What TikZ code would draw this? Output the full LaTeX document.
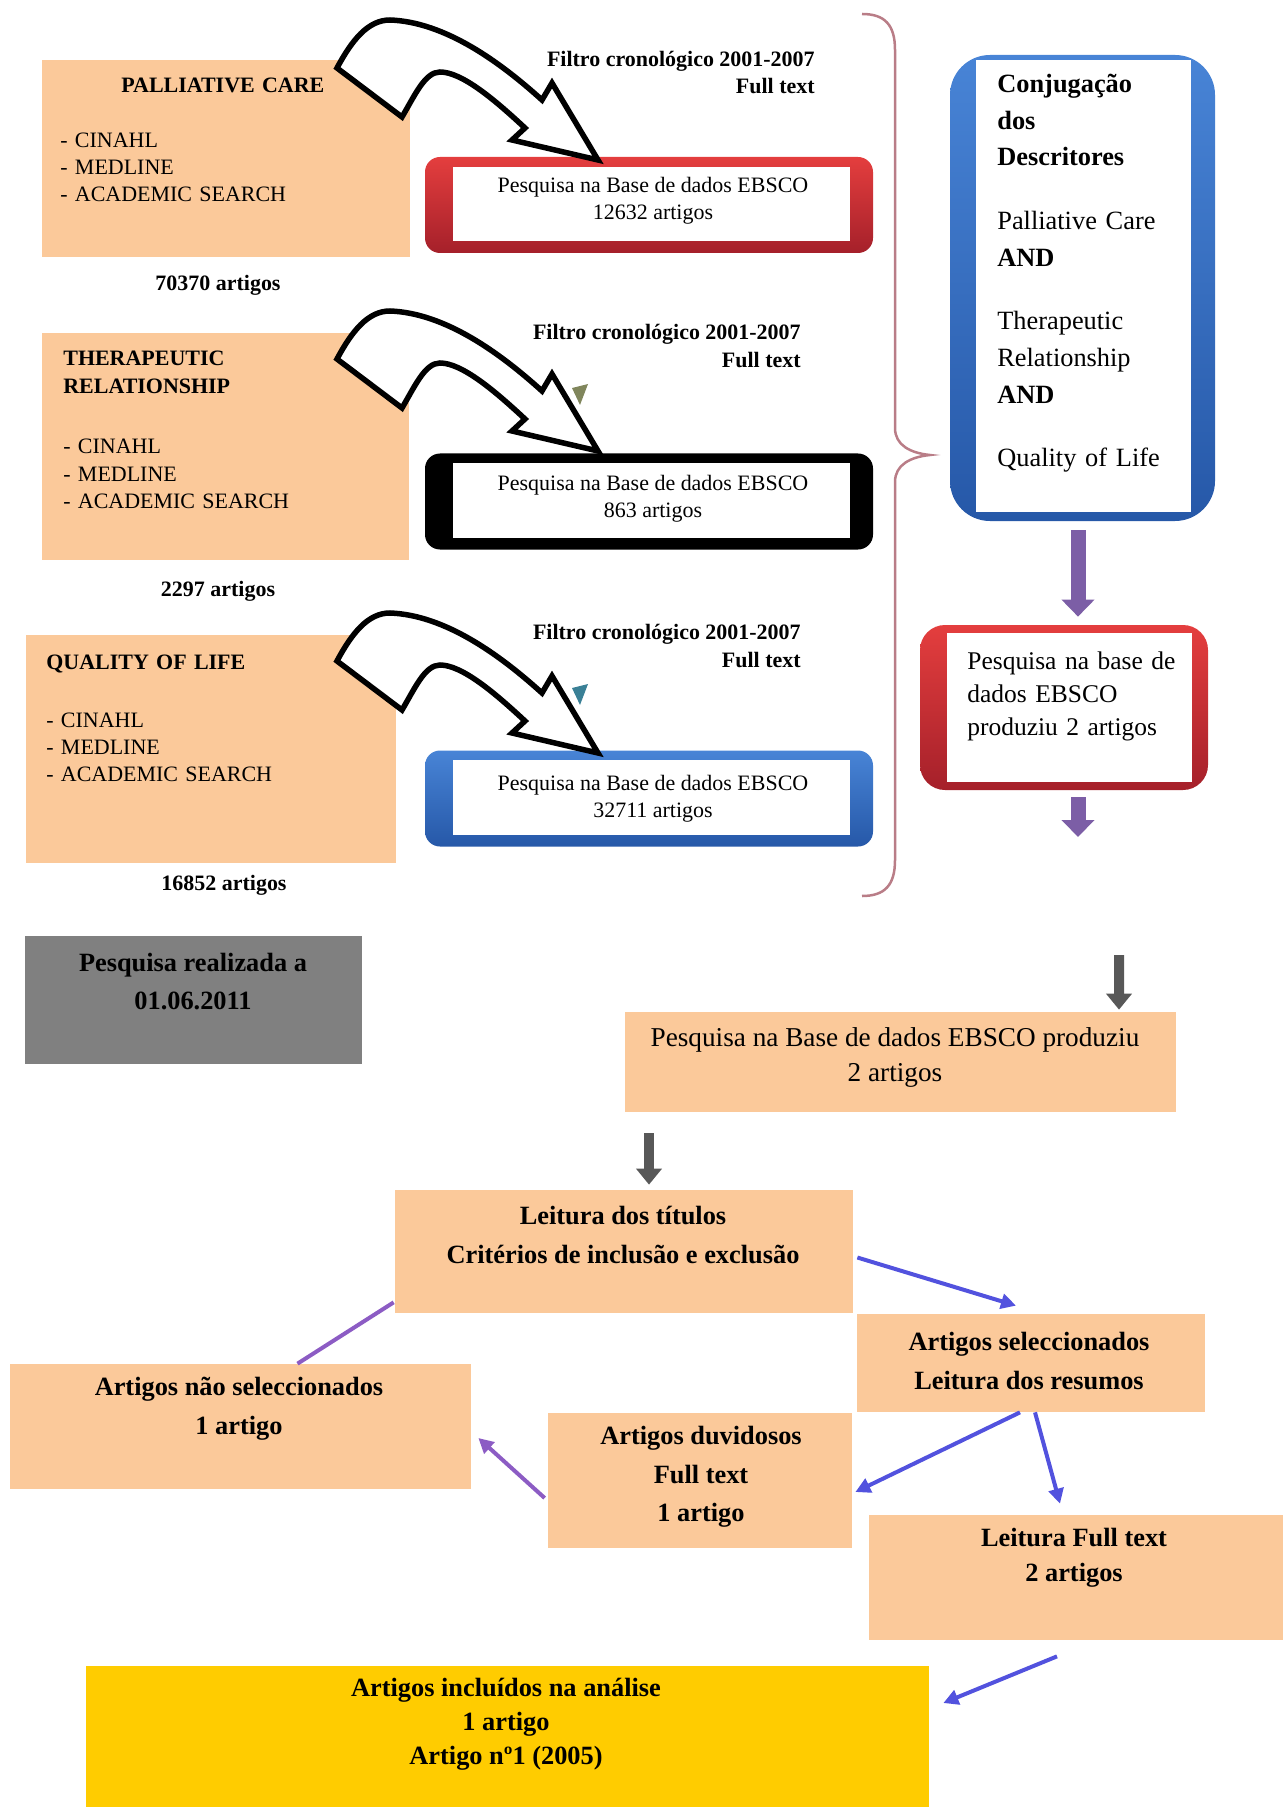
\documentclass[tikz,border=0pt]{standalone}
\usepackage{fontspec}
\setmainfont{Liberation Serif}
\usepackage{tikz}
\usetikzlibrary{positioning,calc,arrows.meta}

\definecolor{peach}{RGB}{251,201,154}
\definecolor{ebred}{RGB}{228,62,62}
\definecolor{ebreddark}{RGB}{165,32,42}
\definecolor{ebblue}{RGB}{72,132,214}
\definecolor{ebbluedark}{RGB}{38,88,168}
\definecolor{mauve}{RGB}{185,125,135}
\definecolor{purp}{RGB}{124,94,166}
\definecolor{dgrey}{RGB}{88,88,88}
\definecolor{datebox}{RGB}{128,128,128}
\definecolor{lnblue}{RGB}{82,82,222}
\definecolor{lnpurp}{RGB}{140,92,196}
\definecolor{goldbox}{RGB}{255,204,0}
\definecolor{olivebit}{RGB}{128,134,92}
\definecolor{tealbit}{RGB}{58,128,150}

\tikzset{
  flow/.style={fill=peach, inner sep=0pt},
  ebsco/.style={rounded corners=3mm, minimum width=89.6mm, minimum height=19.2mm, inner sep=0pt},
  sm/.style={font=\fontsize{12.5}{15.5}\selectfont, inner sep=0pt},
  smb/.style={font=\bfseries\fontsize{12.5}{15.5}\selectfont, inner sep=0pt},
  big/.style={font=\bfseries\fontsize{15}{22}\selectfont, align=center, inner sep=0pt},
  blockarr/.style={draw=black, fill=white, line width=1.1mm},
  purparr/.style={draw=purp, line width=3mm, -{Triangle[width=6.4mm,length=3.4mm]}},
  greyarr/.style={draw=dgrey, line width=2mm, -{Triangle[width=5mm,length=3.2mm]}},
  bluearr/.style={draw=lnblue, line width=0.8mm, -{Triangle[width=3mm,length=3mm]}},
  purpline/.style={draw=lnpurp, line width=0.8mm}
}

\begin{document}
\begin{tikzpicture}[x=0.2mm, y=-0.2mm]
\useasboundingbox (0,0) rectangle (1285,1807);

% descritores
\node[flow, minimum width=73.6mm, minimum height=39.4mm] (pc) at (226,158.5) {};
\node[flow, minimum width=73.4mm, minimum height=45.4mm] (tr) at (225.5,446.5) {};
\node[flow, minimum width=74mm, minimum height=45.6mm] (ql) at (211,749) {};

\node[sm, anchor=west, text width=72mm, align=left] (pcT) at (60,140)
  {\hspace*{12.2mm}\textbf{PALLIATIVE CARE}\\[15.5pt]- CINAHL\\- MEDLINE\\- ACADEMIC SEARCH};
\node[sm, anchor=west, text width=72mm, align=left] (trT) at (63,430)
  {\textbf{THERAPEUTIC}\\\textbf{RELATIONSHIP}\\[19pt]- CINAHL\\- MEDLINE\\- ACADEMIC SEARCH};
\node[sm, anchor=west, text width=72mm, align=left] (qlT) at (46,718.5)
  {\textbf{QUALITY OF LIFE}\\[17.5pt]- CINAHL\\- MEDLINE\\- ACADEMIC SEARCH};

\node[smb] (pcN) at (218,285) {70370 artigos};
\node[smb] (trN) at (218,591) {2297 artigos};
\node[smb] (qlN) at (224,885) {16852 artigos};

% pesquisa EBSCO
\node[ebsco, top color=ebred, bottom color=ebreddark] (eb1) at (649,205) {};
\node[ebsco, fill=black] (eb2) at (649,501.5) {};
\node[ebsco, top color=ebblue, bottom color=ebbluedark] (eb3) at (649,798.5) {};
\foreach \b in {eb1,eb2,eb3}
  \fill[white] ([xshift=5.6mm,yshift=-2mm]\b.north west) rectangle ([xshift=-4.6mm,yshift=2.4mm]\b.south east);

\node[sm, align=center] (eb1T) at (653,200.5) {Pesquisa na Base de dados EBSCO\\12632 artigos};
\node[sm, align=center] (eb2T) at (653,499) {Pesquisa na Base de dados EBSCO\\863 artigos};
\node[sm, align=center] (eb3T) at (653,799) {Pesquisa na Base de dados EBSCO\\32711 artigos};

\node[smb, anchor=east, align=right] (f1) at (815,72.5) {Filtro cronológico 2001-2007\\Full text};
\node[smb, anchor=east, align=right] (f2) at (801,346) {Filtro cronológico 2001-2007\\Full text};
\node[smb, anchor=east, align=right] (f3) at (801,646) {Filtro cronológico 2001-2007\\Full text};

\fill[olivebit] (572,388) -- (588,384) -- (580,405) -- cycle;
\fill[tealbit] (572,688) -- (588,684) -- (580,705) -- cycle;

\foreach \dy in {0,291,593}
  \filldraw[blockarr, shift={(0,\dy)}] (337,68) .. controls (352,40) and (368,20) .. (390,20)
    .. controls (445,22) and (500,62) .. (542,100) -- (552,83) -- (598,160) -- (512,140) -- (525,128)
    .. controls (495,100) and (462,72) .. (440,72) .. controls (425,72) and (415,95) .. (402,117) -- cycle;

% chaveta
\draw[mauve, line width=0.5mm] (862,14) .. controls (885,14) and (895,25) .. (895,50) -- (895,428)
  .. controls (895,445) and (910,453) .. (930,455) .. controls (910,457) and (895,465) .. (895,482)
  -- (895,860) .. controls (895,885) and (885,896) .. (862,896);

% conjugacao
\node[minimum width=53mm, minimum height=93.2mm, rounded corners=8mm, top color=ebblue, bottom color=ebbluedark, inner sep=0pt] (conj) at (1082.5,288) {};
\fill[white] ([xshift=5.2mm,yshift=-1mm]conj.north west) rectangle ([xshift=-4.8mm,yshift=1.8mm]conj.south east);
\node[anchor=west, text width=40mm, align=left, inner sep=0pt, font=\fontsize{15}{21}\selectfont] (conjT) at (997,273)
  {\textbf{Conjugação}\\\textbf{dos}\\\textbf{Descritores}\\[15pt]Palliative Care\\\textbf{AND}\\[15pt]Therapeutic\\Relationship\\\textbf{AND}\\[15pt]Quality of Life};

\node[minimum width=57.6mm, minimum height=33mm, rounded corners=5mm, top color=ebred, bottom color=ebreddark, inner sep=0pt] (pr) at (1064,707.5) {};
\fill[white] ([xshift=5.4mm,yshift=-1.6mm]pr.north west) rectangle ([xshift=-3.2mm,yshift=1.6mm]pr.south east);
\node[anchor=west, text width=44mm, align=left, inner sep=0pt, font=\fontsize{14.5}{19}\selectfont] (prT) at (967,696.5)
  {Pesquisa na base de\\dados EBSCO\\produziu 2 artigos};

\coordinate (prEnd) at (1078,837);
\draw[purparr] ($(conj.south)+(-4.5,9)$) -- ($(pr.north)+(14,-8)$);
\draw[purparr] ($(pr.south)+(14,7)$) -- (prEnd);

% selecao
\node[fill=datebox, minimum width=67.4mm, minimum height=25.6mm, inner sep=0pt] (date) at (193.5,1000) {};
\node[big] (dateT) at (193,981.5) {Pesquisa realizada a\\01.06.2011};

\node[flow, minimum width=110.2mm, minimum height=20mm] (p2) at (900.5,1062) {};
\node[align=center, inner sep=0pt, font=\fontsize{15.5}{20}\selectfont] (p2T) at (895,1057.5) {Pesquisa na Base de dados EBSCO produziu\\2 artigos};

\node[flow, minimum width=91.6mm, minimum height=24.6mm] (lei) at (624,1251.5) {};
\node[big] (leiT) at (623,1235) {Leitura dos títulos\\Critérios de inclusão e exclusão};

\node[flow, minimum width=69.6mm, minimum height=19.6mm] (sel) at (1031,1363) {};
\node[big] (selT) at (1029,1361) {Artigos seleccionados\\Leitura dos resumos};

\node[flow, minimum width=92.2mm, minimum height=25mm] (nsel) at (240.5,1426.5) {};
\node[big] (nselT) at (239,1409) {Artigos não seleccionados\\1 artigo};

\node[flow, minimum width=60.8mm, minimum height=27mm] (duv) at (700,1480.5) {};
\node[big] (duvT) at (701,1477) {Artigos duvidosos\\Full text\\1 artigo};

\node[flow, minimum width=82.8mm, minimum height=25mm] (lft) at (1076,1577.5) {};
\node[big, font=\bfseries\fontsize{15}{20}\selectfont] (lftT) at (1074,1557.5) {Leitura Full text\\2 artigos};

\node[fill=goldbox, minimum width=168.6mm, minimum height=28.2mm, inner sep=0pt] (inc) at (507.5,1736.5) {};
\node[big, font=\bfseries\fontsize{15}{19.5}\selectfont] (incT) at (506,1724) {Artigos incluídos na análise\\1 artigo\\Artigo nº1 (2005)};

\coordinate (gTop) at (1119,955);
\draw[greyarr] (gTop) -- ($(p2.north)+(218.5,-2)$);
\draw[greyarr] ($(p2.south)+(-251.5,21)$) -- ($(lei.north)+(25,-5)$);

\draw[bluearr] ($(lei.east)+(4,6)$) -- ($(sel.north)+(-15,-8)$);
\draw[purpline] ($(lei.south west)+(-1,-11)$) -- ($(nsel.north)+(57,0)$);
\draw[bluearr] ($(sel.south)+(-11,0)$) -- ($(duv.east)+(3,11.5)$);
\draw[bluearr] ($(sel.south)+(4,0)$) -- ($(lft.north)+(-16,-11)$);
\draw[purpline, -{Triangle[width=3mm,length=3mm]}] ($(duv.west)+(-3,17.5)$) -- ($(nsel.east)+(7,11.5)$);
\draw[bluearr] ($(lft.south)+(-19,16)$) -- ($(inc.east)+(14,-33.5)$);
\end{tikzpicture}
\end{document}
